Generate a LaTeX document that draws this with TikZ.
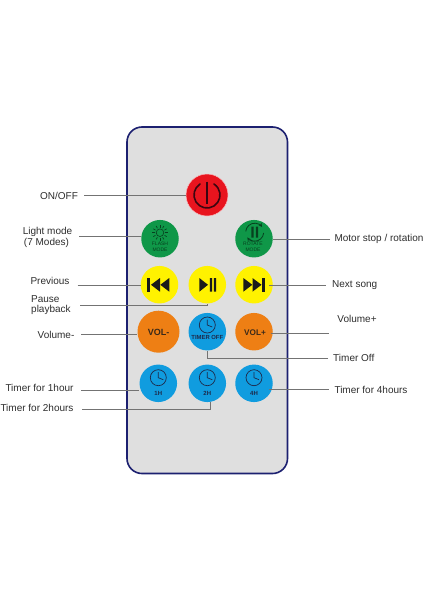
\documentclass[tikz,border=0pt]{standalone}
\usepackage{fontspec}
\setmainfont{Liberation Sans}
\definecolor{shell}{HTML}{DFDFDF}
\definecolor{navy}{HTML}{1C2070}
\definecolor{leaderc}{HTML}{737373}
\definecolor{labelc}{HTML}{2E2E2E}
\definecolor{redb}{HTML}{E8141E}
\definecolor{greenb}{HTML}{0F9748}
\definecolor{yellowb}{HTML}{FFF200}
\definecolor{orangeb}{HTML}{EE7F14}
\definecolor{blueb}{HTML}{109CDF}
\definecolor{inkb}{HTML}{1E2A4A}
\definecolor{inkk}{HTML}{1A1A1A}
\definecolor{inkg}{HTML}{07401F}
\definecolor{inkr}{HTML}{3A0610}
\tikzset{
  x=1pt,y=-1pt,
  btn/.style={circle,inner sep=0pt,draw=none},
  rbig/.style={btn,minimum size=42pt},
  rsmall/.style={btn,minimum size=37.5pt},
  lab/.style={font=\fontsize{10}{12}\selectfont,text=labelc,inner sep=0pt},
  leader/.style={draw=leaderc,line width=1pt},
  tiny/.style={font=\fontsize{5}{5.5}\selectfont,inner sep=0pt},
  clock/.style={draw=inkb,line width=.7pt},
}
\begin{document}
\begin{tikzpicture}
\useasboundingbox (0,0) rectangle (424,600);
\fill[white] (0,0) rectangle (424,600);
% shell
\draw[navy,fill=shell,line width=1.6pt,rounded corners=15pt] (127,127) rectangle (287.5,473.5);
% buttons
\node[rbig,fill=redb,draw=white!70!redb,line width=.5pt] (power) at (207,195) {};
\node[rsmall,fill=greenb] (flash) at (160,238.7) {};
\node[rsmall,fill=greenb] (rotate) at (254,238.7) {};
\node[rsmall,fill=yellowb] (prev) at (159.5,284.7) {};
\node[rsmall,fill=yellowb] (play) at (207.3,284.7) {};
\node[rsmall,fill=yellowb] (next) at (254,284.7) {};
\node[rbig,fill=orangeb] (volm) at (158.5,331.7) {};
\node[rsmall,fill=blueb] (toff) at (207.3,331.7) {};
\node[rsmall,fill=orangeb] (volp) at (254,331.7) {};
\node[rsmall,fill=blueb] (one) at (158.3,383.3) {};
\node[rsmall,fill=blueb] (two) at (207.3,383.3) {};
\node[rsmall,fill=blueb] (four) at (254,383.3) {};
% power icon
\draw[inkr,line width=1.6pt,line cap=round] (207,195) ++(-122:13) arc[start angle=-122,end angle=-418,radius=13];
\draw[inkr,line width=1.9pt] (207,181.5) -- (207,203.5);
% sun icon
\draw[inkg,line width=.6pt] (160,232.7) circle[radius=3.8];
\foreach \a in {0,30,...,330}
  \draw[inkg,line width=.65pt] (160,232.7) ++(\a:5.2) -- ++(\a:2.6);
\node[tiny,text=inkg] (flasht) at (160,244.2) {FLASH};
\node[tiny,text=inkg] (flashm) at (160,250) {MODE};
% rotate icon
\fill[inkg] (251.3,226.7) rectangle (253.6,237.5) (255.8,226.7) rectangle (258.1,237.5);
\draw[inkg,line width=.8pt,-stealth] (254.7,232.2) ++(-175:9) arc[start angle=-175,end angle=-35,radius=9];
\draw[inkg,line width=.8pt,-stealth] (254.7,232.2) ++(5:9) arc[start angle=5,end angle=145,radius=9];
\node[tiny,text=inkg] (rott) at (253,244.2) {ROTATE};
\node[tiny,text=inkg] (rotm) at (253,250) {MODE};
% previous icon
\fill[inkk] (147,278) rectangle (149.5,291.7);
\fill[inkk] (160,278) -- (160,291.7) -- (151,284.8) -- cycle;
\fill[inkk] (169.3,278) -- (169.3,291.7) -- (160.3,284.8) -- cycle;
% play icon
\fill[inkk] (199.3,278) -- (199.3,291.7) -- (208,284.8) -- cycle;
\fill[inkk] (209.8,278) rectangle (212,291.7) (213.8,278) rectangle (216,291.7);
% next icon
\fill[inkk] (243.3,278) -- (243.3,291.7) -- (252.3,284.8) -- cycle;
\fill[inkk] (252.5,278) -- (252.5,291.7) -- (261.5,284.8) -- cycle;
\fill[inkk] (262.3,278) rectangle (264.8,291.7);
% volume text
\node[font=\bfseries\fontsize{9}{10}\selectfont,text=inkk!85!orangeb,inner sep=0pt] (volmt) at (158.5,332.3) {VOL-};
\node[font=\bfseries\fontsize{8.2}{9}\selectfont,text=inkk!85!orangeb,inner sep=0pt] (volpt) at (255,332.3) {VOL+};
% clocks
\foreach \cx/\cy in {207.3/325, 158.3/377.7, 207.3/377.7, 254/377.7}{
  \draw[clock] (\cx,\cy) circle[radius=8];
  \draw[clock] (\cx,\cy-5.5) -- (\cx,\cy) -- (\cx+5,\cy+2);
}
\node[font=\bfseries\fontsize{5.9}{6}\selectfont,text=inkb,inner sep=0pt] (tofft) at (207.3,337.9) {TIMER OFF};
\node[font=\bfseries\fontsize{6}{7}\selectfont,text=inkb,inner sep=0pt] (onet) at (158.3,393.8) {1H};
\node[font=\bfseries\fontsize{6}{7}\selectfont,text=inkb,inner sep=0pt] (twot) at (207.3,393.8) {2H};
\node[font=\bfseries\fontsize{6}{7}\selectfont,text=inkb,inner sep=0pt] (fourt) at (254,393.8) {4H};
% labels
\node[lab] (lOn) at (59,195.7) {ON/OFF};
\node[lab] (lLight) at (47.5,231.7) {Light mode};
\node[lab] (lSeven) at (46.5,242.7) {(7 Modes)};
\node[lab] (lPrev) at (50,281.3) {Previous};
\node[lab,anchor=west] (lPause) at (31,299.3) {Pause};
\node[lab,anchor=west] (lPlayb) at (31,310.3) {playback};
\node[lab] (lVolm) at (56,334.7) {Volume-};
\node[lab] (l1h) at (39.5,388.3) {Timer for 1hour};
\node[lab] (l2h) at (37,408) {Timer for 2hours};
\node[lab] (lMotor) at (379,239.3) {Motor stop / rotation};
\node[lab] (lNext) at (354.7,285.3) {Next song};
\node[lab] (lVolp) at (357,319) {Volume+};
\node[lab] (lToff) at (353.8,357.7) {Timer Off};
\node[lab] (l4h) at (371,390.3) {Timer for 4hours};
% free ends
\coordinate (eOn) at (84,195.8);
\coordinate (eLight) at (79,236.7);
\coordinate (ePrev) at (77.5,285.3);
\coordinate (ePause) at (80,305.3);
\coordinate (eVolm) at (81,334.7);
\coordinate (e1h) at (81,390);
\coordinate (e2h) at (82,409.3);
\coordinate (eMotor) at (330,239);
\coordinate (eNext) at (326,285.3);
\coordinate (eVolp) at (329.3,333.7);
\coordinate (eToff) at (328,358.7);
\coordinate (e4h) at (329,389.3);
% connectors
\draw[leader] (eOn) -- (eOn -| power.west);
\draw[leader] (eLight) -- (eLight -| flash.west);
\draw[leader] (ePrev) -- (ePrev -| prev.west);
\draw[leader] (ePause) -| (play.south);
\draw[leader] (eVolm) -- (eVolm -| volm.west);
\draw[leader] (e1h) -- (e1h -| one.west);
\draw[leader] (e2h) -| ([xshift=2.7pt]two.south);
\draw[leader] (eMotor) -- (eMotor -| rotate.east);
\draw[leader] ([xshift=-4pt]eNext -| next.east) -- (eNext);
\draw[leader] ([xshift=-2pt]eVolp -| volp.east) -- (eVolp);
\draw[leader] (eToff) -| (toff.south);
\draw[leader] ([xshift=-4pt]e4h -| four.east) -- (e4h);
\end{tikzpicture}
\end{document}
